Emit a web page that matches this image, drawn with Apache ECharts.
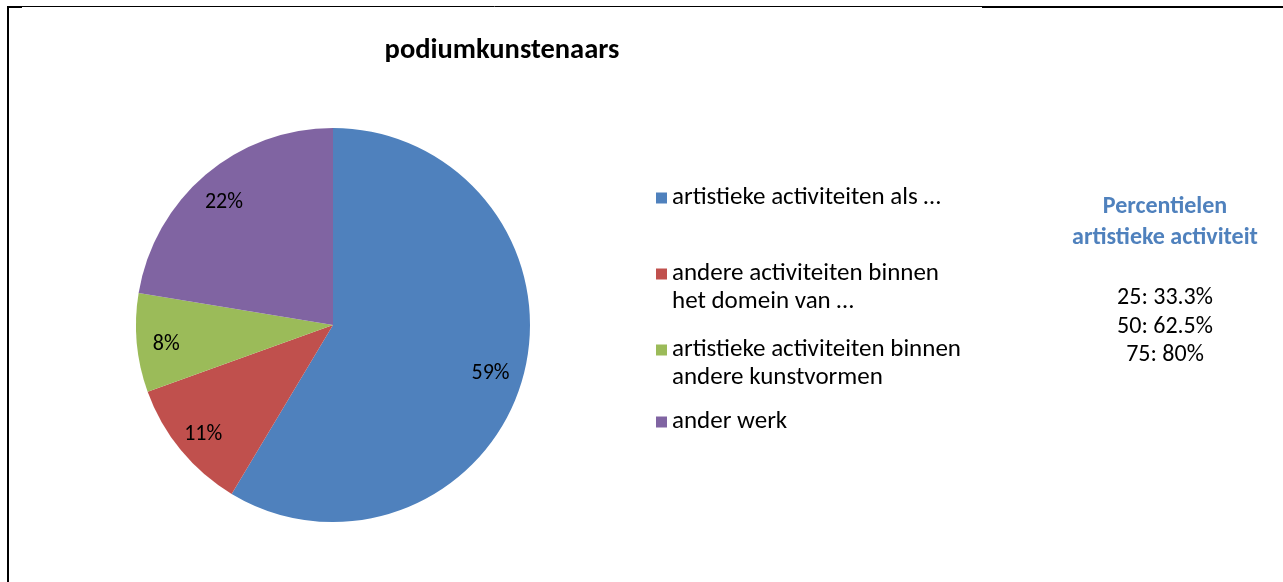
<!DOCTYPE html>
<html>
<head>
<meta charset="utf-8">
<title>podiumkunstenaars</title>
<script src="https://cdn.jsdelivr.net/npm/echarts@6/dist/echarts.min.js"></script>
<style>
  html, body { margin: 0; padding: 0; background: #fff; }
  #chart { width: 1283px; height: 582px; }
</style>
</head>
<body>
<div id="chart"></div>
<script>
// Share of working time, performing artists
const chartTitle = 'podiumkunstenaars';
const categories = [
  'artistieke activiteiten als …',
  'andere activiteiten binnen\nhet domein van …',
  'artistieke activiteiten binnen\nandere kunstvormen',
  'ander werk'
];
const shares = [58.6, 10.9, 8.1, 22.4];
const colors = ['#4F81BD', '#C0504D', '#9BBB59', '#8064A2'];

// Percentiles of the artistic activity share
const percentileHeading = 'Percentielen\nartistieke activiteit';
const percentileKeys = [25, 50, 75];
const percentileValues = ['33.3%', '62.5%', '80%'];

const FONT = 'Carlito, Lato, "Liberation Sans", sans-serif';
const pieCenter = [333, 325];
const pieRadius = 197;

const pieData = categories.map((name, i) => ({
  name: name,
  value: shares[i],
  itemStyle: { color: colors[i] }
}));

// one legend block per entry so each can sit at its own height;
// two-line names get an empty leading line so the swatch lines up with the first line
const legendTops = [184, 232, 308, 408];
const legends = categories.map((name, i) => ({
  data: [name],
  left: 656,
  top: legendTops[i],
  orient: 'vertical',
  padding: 0,
  icon: 'rect',
  itemWidth: 11,
  itemHeight: 11,
  itemGap: 0,
  selectedMode: false,
  formatter: n => (n.indexOf('\n') >= 0 ? '\n' + n : n),
  textStyle: {
    fontFamily: FONT,
    fontSize: 25,
    color: '#000',
    lineHeight: 28
  }
}));

const chart = echarts.init(document.getElementById('chart'), null, { renderer: 'canvas' });

chart.setOption({
  backgroundColor: '#fff',
  animation: false,
  title: [
    {
      text: chartTitle,
      left: 497,
      top: 31,
      textAlign: 'center',
      textStyle: { fontFamily: FONT, fontSize: 28.5, fontWeight: 'bold', color: '#000' }
    },
    {
      text: percentileHeading,
      subtext: percentileKeys.map((k, i) => k + ': ' + percentileValues[i]).join('\n'),
      left: 1160,
      top: 186,
      textAlign: 'center',
      itemGap: 31,
      textStyle: {
        fontFamily: FONT, fontSize: 24, fontWeight: 'bold',
        color: '#4F81BD', lineHeight: 31
      },
      subtextStyle: {
        fontFamily: FONT, fontSize: 24, color: '#000', lineHeight: 28.5
      }
    }
  ],
  legend: legends,
  series: [
    {
      type: 'pie',
      center: pieCenter,
      radius: [0, pieRadius],
      startAngle: 90,
      clockwise: true,
      data: pieData,
      label: { show: false },
      labelLine: { show: false },
      itemStyle: { borderWidth: 0 },
      emphasis: { disabled: true }
    },
    {
      // transparent ring that carries the percentage labels
      type: 'pie',
      center: pieCenter,
      radius: [Math.round(pieRadius * 0.65), pieRadius],
      startAngle: 90,
      clockwise: true,
      silent: true,
      legendHoverLink: false,
      percentPrecision: 0,
      data: pieData.map(d => ({ name: d.name, value: d.value })),
      itemStyle: { color: 'rgba(0,0,0,0)', borderWidth: 0 },
      label: {
        show: true,
        position: 'inside',
        formatter: '{d}%',
        fontFamily: FONT,
        fontSize: 22,
        color: '#000',
        offset: [-2, 4]
      },
      labelLine: { show: false },
      emphasis: { disabled: true }
    }
  ],
  graphic: [
    // outer frame edges
    { type: 'line', silent: true, shape: { x1: 8, y1: 6, x2: 8, y2: 582 }, style: { stroke: '#000', lineWidth: 2 } },
    { type: 'line', silent: true, shape: { x1: 7, y1: 6.5, x2: 982, y2: 6.5 }, style: { stroke: '#000', lineWidth: 1 } },
    { type: 'line', silent: true, shape: { x1: 7, y1: 7, x2: 22, y2: 7 }, style: { stroke: '#000', lineWidth: 2 } },
    { type: 'line', silent: true, shape: { x1: 982, y1: 7, x2: 1283, y2: 7 }, style: { stroke: '#000', lineWidth: 2 } }
  ]
});
</script>
</body>
</html>
